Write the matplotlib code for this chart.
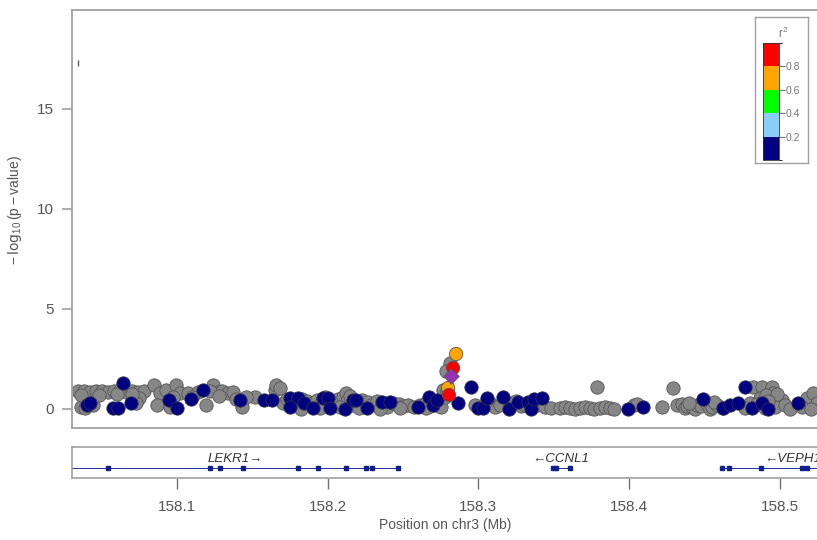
import matplotlib as mpl
import matplotlib.pyplot as plt
from matplotlib.colors import ListedColormap, BoundaryNorm

mpl.rcParams['font.family'] = ['Liberation Sans', 'DejaVu Sans']
mpl.rcParams['mathtext.default'] = 'regular'

# SNPs without LD information (grey)
gray_pos = [158.034, 158.038, 158.042, 158.046, 158.050, 158.054, 158.058, 158.062, 158.066, 158.070,
            158.074, 158.078, 158.036, 158.039, 158.044, 158.075, 158.073, 158.070, 158.036, 158.048,
            158.060,
            158.085, 158.089, 158.087, 158.093, 158.099, 158.102, 158.107, 158.095, 158.119, 158.124,
            158.127, 158.130, 158.134, 158.137, 158.139, 158.143, 158.114, 158.122, 158.110, 158.128,
            158.097,
            158.152, 158.165, 158.166, 158.168, 158.170, 158.146,
            158.173, 158.176, 158.180, 158.183, 158.186, 158.190, 158.193, 158.196, 158.200, 158.204,
            158.207, 158.210, 158.212, 158.213, 158.216, 158.220, 158.223, 158.227, 158.229, 158.233,
            158.236, 158.239, 158.243, 158.247, 158.250, 158.253, 158.257, 158.261, 158.265, 158.268,
            158.272, 158.275, 158.182, 158.195, 158.208, 158.221, 158.235, 158.248, 158.265, 158.278,
            158.198, 158.215,
            158.2765, 158.281, 158.2785, 158.279,
            158.298, 158.308, 158.311, 158.314, 158.322, 158.328, 158.331, 158.339, 158.344, 158.348,
            158.306, 158.325,
            158.354, 158.3575, 158.361, 158.364, 158.3675, 158.371, 158.374, 158.377, 158.381, 158.384,
            158.387, 158.390, 158.379,
            158.403, 158.405, 158.422,
            158.429, 158.432, 158.435, 158.437, 158.4385, 158.442, 158.444, 158.445, 158.448, 158.452,
            158.454, 158.455, 158.458, 158.462, 158.440, 158.456,
            158.482, 158.488, 158.495, 158.4955, 158.499, 158.5015, 158.487, 158.491, 158.480, 158.485,
            158.4935, 158.497, 158.5035, 158.507, 158.477, 158.490, 158.498, 158.492,
            158.518, 158.522, 158.525, 158.515, 158.521]
gray_logp = [0.9, 0.9, 0.85, 0.9, 0.9, 0.85, 0.9, 0.95, 0.85, 0.9,
             0.85, 0.9, 0.1, 0.05, 0.2, 0.55, 0.3, 0.75, 0.7, 0.7,
             0.75,
             1.2, 0.8, 0.2, 0.95, 1.2, 0.8, 0.8, 0.1, 0.2, 1.2,
             0.85, 0.9, 0.8, 0.85, 0.5, 0.1, 0.85, 0.9, 0.6, 0.65,
             0.6,
             0.6, 0.95, 1.2, 1.05, 0.3, 0.6,
             0.5, 0.3, 0.2, 0.5, 0.4, 0.3, 0.45, 0.35, 0.4, 0.3,
             0.5, 0.6, 0.8, 0.4, 0.2, 0.3, 0.45, 0.35, 0.2, 0.4,
             0.2, 0.1, 0.3, 0.25, 0.15, 0.2, 0.1, 0.2, 0.3, 0.15,
             0.2, 0.1, 0.0, 0.05, 0.1, 0.05, 0.0, 0.05, 0.05, 0.6,
             0.6, 0.65,
             0.95, 2.3, 1.9, 0.9,
             0.2, 0.3, 0.1, 0.2, 0.3, 0.15, 0.2, 0.2, 0.1, 0.05,
             0.45, 0.4,
             0.05, 0.1, 0.05, 0.0, 0.05, 0.1, 0.05, 0.0, 0.05, 0.1,
             0.05, 0.0, 1.1,
             0.2, 0.25, 0.1,
             1.05, 0.2, 0.25, 0.05, 0.15, 0.1, 0.0, 0.2, 0.15, 0.25,
             0.0, 0.1, 0.2, 0.05, 0.3, 0.35,
             1.1, 1.1, 1.1, 0.8, 0.5, 0.45, 0.55, 0.7, 0.3, 0.25,
             0.2, 0.1, 0.2, 0.0, 0.05, 0.05, 0.75, 0.4,
             0.55, 0.8, 0.3, 0.1, 0.0]

# SNPs with r2 < 0.2 (navy)
navy_pos = [158.040, 158.042, 158.0575, 158.061, 158.064, 158.0695,
            158.0947, 158.100, 158.109, 158.117, 158.142,
            158.158, 158.163,
            158.175, 158.180, 158.175, 158.184, 158.190, 158.197, 158.200, 158.2015, 158.2115, 158.217,
            158.219, 158.226, 158.236, 158.241, 158.260, 158.267, 158.270, 158.2726,
            158.2865,
            158.295, 158.300, 158.303, 158.306, 158.316, 158.320, 158.326, 158.333, 158.335, 158.337,
            158.342,
            158.399, 158.409,
            158.449, 158.462, 158.467, 158.472,
            158.477, 158.4816, 158.488, 158.492,
            158.512]
navy_logp = [0.2, 0.3, 0.05, 0.05, 1.3, 0.3,
             0.45, 0.05, 0.5, 0.95, 0.45,
             0.45, 0.45,
             0.55, 0.55, 0.1, 0.3, 0.05, 0.55, 0.55, 0.05, 0.0, 0.45,
             0.45, 0.05, 0.35, 0.35, 0.1, 0.6, 0.2, 0.45,
             0.3,
             1.1, 0.05, 0.05, 0.55, 0.6, 0.0, 0.35, 0.35, 0.0, 0.5,
             0.55,
             0.0, 0.1,
             0.5, 0.05, 0.2, 0.3,
             1.1, 0.05, 0.3, 0.0,
             0.3]

# SNPs in LD with the lead SNP
ld_pos = [158.2799, 158.2805, 158.2832, 158.2852]
ld_logp = [1.05, 0.7, 2.05, 2.75]
ld_r2 = [0.7, 0.85, 0.9, 0.65]

lead_pos = 158.2818
lead_logp = 1.65

mark_pos = 158.0345
mark_logp = 17.3

# genes
gene_names = ['LEKR1', 'CCNL1', 'VEPH1']
gene_start = [158.000, 158.3495, 158.4616]
gene_end = [158.2467, 158.3608, 158.600]
gene_strand = ['+', '-', '-']
gene_label_pos = [158.1385, 158.3545, 158.5085]
gene_exons = [[158.0542, 158.1219, 158.1285, 158.1438, 158.1803, 158.1936, 158.2121, 158.2254,
               158.2294, 158.2467],
              [158.3495, 158.3515, 158.3608],
              [158.4616, 158.4663, 158.4875, 158.5147, 158.5180]]

r2_bounds = [0.0, 0.2, 0.4, 0.6, 0.8, 1.0]
r2_colors = ['#000080', '#87CEFA', '#00FF00', '#FFA500', '#FF0000']
r2_ticks = [0.2, 0.4, 0.6, 0.8]

xmin, xmax = 158.0303, 158.5333
grey_line = '#a0a0a0'
text_col = '#555555'

W, H = 817, 540
fig = plt.figure(figsize=(W / 100, H / 100), dpi=100)
ax = fig.add_axes([72 / W, 1 - 428 / H, (830 - 72) / W, 418 / H])
gax = fig.add_axes([72 / W, 1 - 478 / H, (830 - 72) / W, 31 / H])

ax.scatter(gray_pos, gray_logp, s=92, c='#868686', edgecolors='#555555', linewidths=0.6, zorder=2)
ax.scatter(navy_pos, navy_logp, s=92, c='#000080', edgecolors='#303050', linewidths=0.6, zorder=3)
cmap = ListedColormap(r2_colors)
norm = BoundaryNorm(r2_bounds, cmap.N)
ax.scatter(ld_pos, ld_logp, s=92, c=ld_r2, cmap=cmap, norm=norm, edgecolors='#555555',
           linewidths=0.6, zorder=4)
ax.scatter([lead_pos], [lead_logp], s=62, marker='D', c='#9632B8', edgecolors='#555555',
           linewidths=0.6, zorder=5)
ax.plot([mark_pos], [mark_logp], marker='|', ms=5, color='#606060', mew=1.0)

ax.set_xlim(xmin, xmax)
ax.set_ylim(-0.95, 19.95)
ax.set_yticks([0, 5, 10, 15])
ax.set_xticks([])
ax.tick_params(axis='y', colors=grey_line, labelcolor=text_col, labelsize=11, length=7,
               width=1.2, pad=6)
for sp in ax.spines.values():
    sp.set_color(grey_line)
    sp.set_linewidth(1.3)

fig.text(15 / W, 1 - 210 / H, r'$-\,\log_{10}(p-value)$', rotation=90, ha='center', va='center',
         fontsize=10, color=text_col)
fig.text(445 / W, 1 - 525 / H, 'Position on chr3 (Mb)', ha='center', va='center',
         fontsize=10, color=text_col)

# gene track
for name, s, e, strand, lx, exons in zip(gene_names, gene_start, gene_end, gene_strand,
                                          gene_label_pos, gene_exons):
    gax.plot([s, e], [0.32, 0.32], color='#2030a0', lw=0.7, zorder=2)
    gax.plot(exons, [0.32] * len(exons), ls='none', marker='s', ms=2.6, color='#10208a', zorder=3)
    label = name + '\u2192' if strand == '+' else '\u2190' + name
    gax.text(lx, 0.62, label, ha='center', va='center', fontsize=9.5, style='italic',
             color='#333333', zorder=4)
gax.set_xlim(xmin, xmax)
gax.set_ylim(0, 1)
gax.set_yticks([])
gax.set_xticks([158.1, 158.2, 158.3, 158.4, 158.5])
gax.set_xticklabels(['158.1', '158.2', '158.3', '158.4', '158.5'])
gax.tick_params(axis='x', colors='#707070', labelcolor=text_col, labelsize=11, length=8,
                width=1.0, pad=8)
for sp in gax.spines.values():
    sp.set_color(grey_line)
    sp.set_linewidth(1.2)

# r2 legend
lbox = fig.add_axes([755 / W, 1 - 163 / H, 53 / W, 146 / H])
lbox.set_xticks([])
lbox.set_yticks([])
lbox.patch.set_facecolor('white')
for sp in lbox.spines.values():
    sp.set_color(grey_line)
    sp.set_linewidth(1.0)
cax = fig.add_axes([763 / W, 1 - 160 / H, 16 / W, 117 / H])
cb = mpl.colorbar.ColorbarBase(cax, cmap=cmap, norm=norm, boundaries=r2_bounds, ticks=r2_ticks)
cb.outline.set_edgecolor('#333333')
cb.outline.set_linewidth(0.6)
cax.tick_params(labelsize=7.5, colors='#777777', labelcolor='#777777', length=4, width=0.8, pad=1)
fig.text(783 / W, 1 - 33 / H, r'$r^2$', ha='center', va='center', fontsize=8.5, color='#777777')

fig.savefig('out.png', dpi=100)
